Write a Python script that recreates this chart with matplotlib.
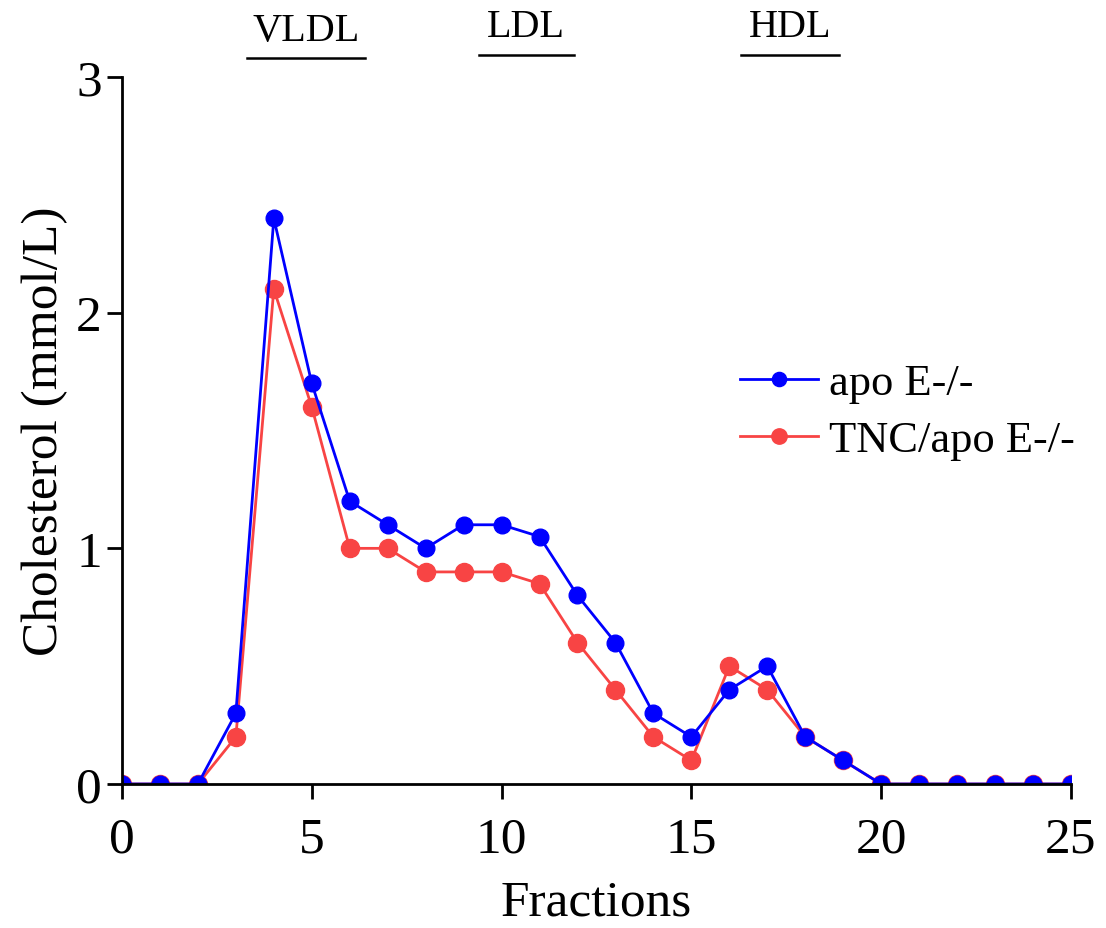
import matplotlib.pyplot as plt

plt.rcParams['font.family'] = ['Liberation Serif', 'DejaVu Serif']

fractions = list(range(26))
apoe = [0, 0, 0, 0.3, 2.4, 1.7, 1.2, 1.1, 1.0, 1.1, 1.1, 1.05, 0.8, 0.6, 0.3,
        0.2, 0.4, 0.5, 0.2, 0.1, 0, 0, 0, 0, 0, 0]
tnc_apoe = [0, 0, 0, 0.2, 2.1, 1.6, 1.0, 1.0, 0.9, 0.9, 0.9, 0.85, 0.6, 0.4, 0.2,
            0.1, 0.5, 0.4, 0.2, 0.1, 0, 0, 0, 0, 0, 0]

# lipoprotein class bars above the plot: (label, start fraction, end fraction, bar height)
classes = [("VLDL", 3.3, 6.4, 3.08), ("LDL", 9.4, 11.9, 3.095), ("HDL", 16.3, 18.9, 3.095)]

fig = plt.figure(figsize=(11.06, 9.29), dpi=100)
ax = fig.add_axes([0.1103, 0.155, 0.858, 0.761])

red_line, = ax.plot(fractions, tnc_apoe, color="#f84444", lw=2, marker="o",
                    ms=13, label="TNC/apo E-/-")
blue_line, = ax.plot(fractions, apoe, color="#0000ff", lw=2, marker="o",
                     ms=12, label="apo E-/-")

ax.set_xlim(0, 25)
ax.set_ylim(0, 3)
ax.set_xticks([0, 5, 10, 15, 20, 25])
ax.set_yticks([0, 1, 2, 3])
ax.spines["top"].set_visible(False)
ax.spines["right"].set_visible(False)
for s in ["left", "bottom"]:
    ax.spines[s].set_linewidth(2)
ax.tick_params(axis="both", labelsize=37, width=2, length=11, direction="out")
ax.tick_params(axis="x", pad=12)

ax.set_xlabel("Fractions", fontsize=37, labelpad=12)
ax.set_ylabel("Cholesterol (mmol/L)", fontsize=37, labelpad=6)

for name, x0, x1, yb in classes:
    ax.plot([x0, x1], [yb, yb], color="black", lw=1.8, clip_on=False)
    ax.text((x0 + x1) / 2, yb + 0.04, name, fontsize=29, ha="center", va="bottom")

leg = ax.legend(handles=[blue_line, red_line], loc="upper left",
                bbox_to_anchor=(0.651, 0.595), frameon=False, fontsize=32,
                handlelength=1.75, markerscale=0.85, labelspacing=0.38,
                handletextpad=0.25, borderpad=0, borderaxespad=0)

fig.savefig("out.png", dpi=100)
